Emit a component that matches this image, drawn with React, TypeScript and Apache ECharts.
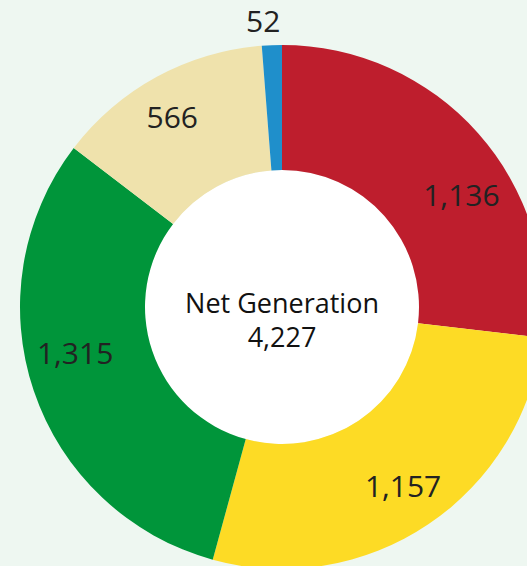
import React, { useEffect, useRef } from "react";
import * as echarts from "echarts";

const categories = ["Red", "Yellow", "Green", "Beige", "Blue"];
const values = [1136, 1157, 1315, 566, 52];
const colors = ["#be1e2d", "#fddb25", "#00953a", "#efe2ac", "#1f8fcb"];
const centerTitle = "Net Generation";
const netGeneration = 4227;
// label nudges (px) relative to ECharts' inside label position
const labelOffsets: [number, number][] = [
  [28, 22],
  [8, 11],
  [-15, -19],
  [-13, -13],
  [-11, -84],
];

const fmt = (v: number) => v.toLocaleString("en-US");

export default function App() {
  const ref = useRef<HTMLDivElement>(null);
  useEffect(() => {
    if (!ref.current) return;
    const chart = echarts.init(ref.current, null, { renderer: "svg" });
    const cx = 282;
    const cy = 307;
    const inner = 137;
    const outer = 262;
    chart.setOption({
      animation: false,
      backgroundColor: "#eef7f1",
      graphic: [
        {
          type: "circle",
          z: 0,
          shape: { cx, cy, r: inner },
          style: { fill: "#ffffff" },
        },
        {
          type: "text",
          z: 10,
          x: cx,
          y: cy + 12,
          style: {
            text: centerTitle + "\n" + fmt(netGeneration),
            fill: "#111111",
            font: "500 27px 'Open Sans', sans-serif",
            lineHeight: 34,
            align: "center",
            verticalAlign: "middle",
          },
        },
      ],
      series: [
        {
          type: "pie",
          center: [cx, cy],
          radius: [inner, outer],
          startAngle: 90,
          clockwise: true,
          avoidLabelOverlap: false,
          z: 2,
          label: {
            show: true,
            position: "inside",
            color: "#222222",
            fontSize: 30,
            fontWeight: 500,
            fontFamily: "'Open Sans', sans-serif",
            formatter: (p: any) => fmt(p.value),
          },
          labelLine: { show: false },
          emphasis: { disabled: true },
          data: categories.map((name, i) => ({
            name,
            value: values[i],
            itemStyle: { color: colors[i] },
            label: { offset: labelOffsets[i] },
          })),
        },
      ],
    });
    return () => chart.dispose();
  }, []);
  return (
    <div
      ref={ref}
      style={{ position: "absolute", left: 0, top: 0, width: 527, height: 566 }}
    />
  );
}
